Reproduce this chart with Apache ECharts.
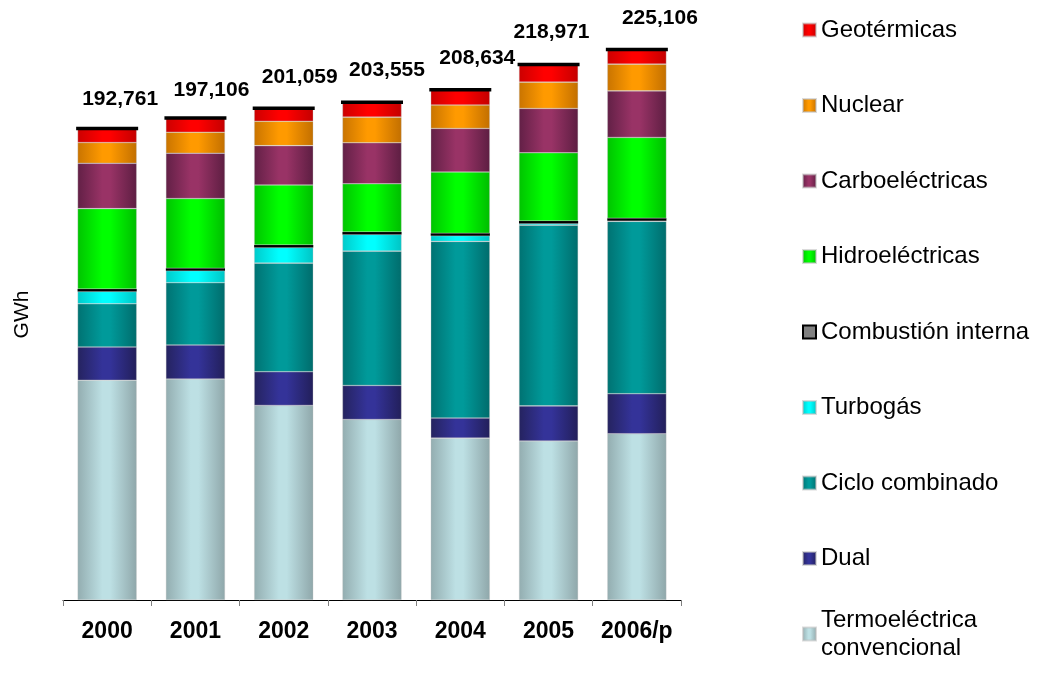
<!DOCTYPE html>
<html>
<head>
<meta charset="utf-8">
<script src="https://cdn.jsdelivr.net/npm/echarts@6/dist/echarts.min.js"></script>
<style>
  html, body { margin: 0; padding: 0; background: #ffffff; }
  #chart { width: 1055px; height: 679px; }
</style>
</head>
<body>
<div id="chart"></div>
<script>
// Generación bruta por tipo de central (GWh)
const years = ['2000', '2001', '2002', '2003', '2004', '2005', '2006/p'];

const termoConvencional = [89851, 90356, 79549, 73800, 66204, 65031, 67976];
const dual              = [13580, 13900, 13780, 13910,  8180, 14320, 16360];
const cicloCombinado    = [17670, 25480, 44420, 54930, 72230, 73910, 70470];
const turbogas          = [ 5030,  4900,  6400,  6830,  2330,   700,   300];
const combustionInterna = [ 1000,  1000,  1000,  1000,  1000,  1000,  1000];
const hidroelectricas   = [32900, 28500, 24540, 19710, 25030, 27890, 33010];
const carboelectricas   = [18530, 18530, 16070, 16770, 17830, 18120, 19060];
const nuclear           = [ 8470,  8590,  9980, 10470,  9570, 10760, 10920];
const geotermicas       = [ 5730,  5850,  5320,  6135,  6260,  7240,  6010];

// label placement of each total, relative to the top of its bar
const totalLabelOffsets = [[13, -29], [16, -28], [16, -31], [15, -32], [17, -32], [3, -32], [23, -31]];

function shade(edge, mid, edge2) {
  return {
    type: 'linear', x: 0, y: 0, x2: 1, y2: 0,
    colorStops: [
      { offset: 0, color: edge },
      { offset: 0.42, color: mid },
      { offset: 0.55, color: mid },
      { offset: 1, color: edge2 || edge }
    ]
  };
}

const stackDefs = [
  { name: 'Termoeléctrica convencional', data: termoConvencional, color: shade('#93adb0', '#bde0e4', '#8fa7aa') },
  { name: 'Dual', data: dual, color: shade('#25235f', '#343399', '#221f5a') },
  { name: 'Ciclo combinado', data: cicloCombinado, color: shade('#007272', '#009a9a', '#006c6c') },
  { name: 'Turbogás', data: turbogas, color: shade('#00caca', '#00ffff', '#00c4c4') },
  { name: 'Combustión interna', data: combustionInterna, color: '#000000', border: true },
  { name: 'Hidroeléctricas', data: hidroelectricas, color: shade('#00c400', '#00ff00', '#00bd00') },
  { name: 'Carboeléctricas', data: carboelectricas, color: shade('#622046', '#993366', '#5d1e42') },
  { name: 'Nuclear', data: nuclear, color: shade('#c97400', '#ff9a00', '#c26f00') },
  { name: 'Geotérmicas', data: geotermicas, color: shade('#cc0000', '#ff0000', '#c40000') }
];

const totals = years.map((_, i) => stackDefs.reduce((s, d) => s + d.data[i], 0));

const barSeries = stackDefs.map(d => ({
  name: d.name,
  type: 'bar',
  stack: 'gen',
  barWidth: '67%',
  data: d.data,
  itemStyle: d.border
    ? { color: d.color, borderColor: '#000000', borderWidth: 1.6 }
    : { color: d.color, borderColor: 'rgba(190,190,190,0.55)', borderWidth: 0.6 },
  emphasis: { disabled: true },
  animation: false
}));

const totalSeries = {
  name: 'Total',
  type: 'scatter',
  symbol: 'rect',
  symbolSize: [62, 3.5],
  z: 10,
  itemStyle: { color: '#000000', opacity: 1 },
  data: totals.map((v, i) => ({
    value: v,
    label: { offset: totalLabelOffsets[i] }
  })),
  label: {
    show: true,
    position: 'inside',
    formatter: p => p.value.toLocaleString('en-US'),
    color: '#000000',
    opacity: 1,
    textBorderWidth: 0,
    fontFamily: 'Liberation Sans, Arial, sans-serif',
    fontWeight: 'bold',
    fontSize: 21
  },
  emphasis: { disabled: true },
  animation: false
};

const legendText = {
  fontFamily: 'Liberation Sans, Arial, sans-serif',
  fontSize: 24,
  color: '#000000',
  lineHeight: 28
};

const legendNames = stackDefs.slice(1).map(d => d.name).reverse();

const chart = echarts.init(document.getElementById('chart'), null, { renderer: 'canvas' });
chart.setOption({
  animation: false,
  backgroundColor: '#ffffff',
  grid: { left: 63, right: 374, top: 13, bottom: 79, containLabel: false, outerBoundsMode: 'none' },
  legend: [
    {
      orient: 'vertical',
      left: 802,
      top: 16,
      padding: 0,
      itemGap: 47.5,
      itemWidth: 13,
      itemHeight: 13,
      icon: 'rect',
      selectedMode: false,
      textStyle: legendText,
      data: legendNames.map(n => n === 'Combustión interna'
        ? { name: n, itemStyle: { color: '#808080', borderColor: '#000000', borderWidth: 2 } }
        : { name: n })
    },
    {
      orient: 'vertical',
      left: 802,
      top: 592,
      padding: 0,
      itemWidth: 13,
      itemHeight: 13,
      icon: 'rect',
      selectedMode: false,
      textStyle: legendText,
      formatter: () => 'Termoeléctrica\nconvencional',
      data: [{ name: 'Termoeléctrica convencional', textStyle: { padding: [28, 0, 0, 0] } }]
    }
  ],
  xAxis: {
    type: 'category',
    data: years,
    boundaryGap: true,
    axisLine: { show: true, lineStyle: { color: '#000000', width: 1 } },
    axisTick: { show: true, interval: 0, alignWithLabel: false, length: 6, lineStyle: { color: '#808080' } },
    axisLabel: {
      interval: 0,
      margin: 20,
      color: '#000000',
      fontFamily: 'Liberation Sans, Arial, sans-serif',
      fontWeight: 'bold',
      fontSize: 23
    }
  },
  yAxis: {
    type: 'value',
    min: 0,
    max: 240000,
    name: 'GWh',
    nameLocation: 'middle',
    nameRotate: 90,
    nameGap: 30,
    nameTextStyle: {
      fontFamily: 'Liberation Sans, Arial, sans-serif',
      fontSize: 21,
      color: '#000000',
      padding: [0, 16, 0, 0]
    },
    axisLine: { show: false },
    axisTick: { show: false },
    axisLabel: { show: false },
    splitLine: { show: false }
  },
  series: barSeries.concat([totalSeries])
});
</script>
</body>
</html>
